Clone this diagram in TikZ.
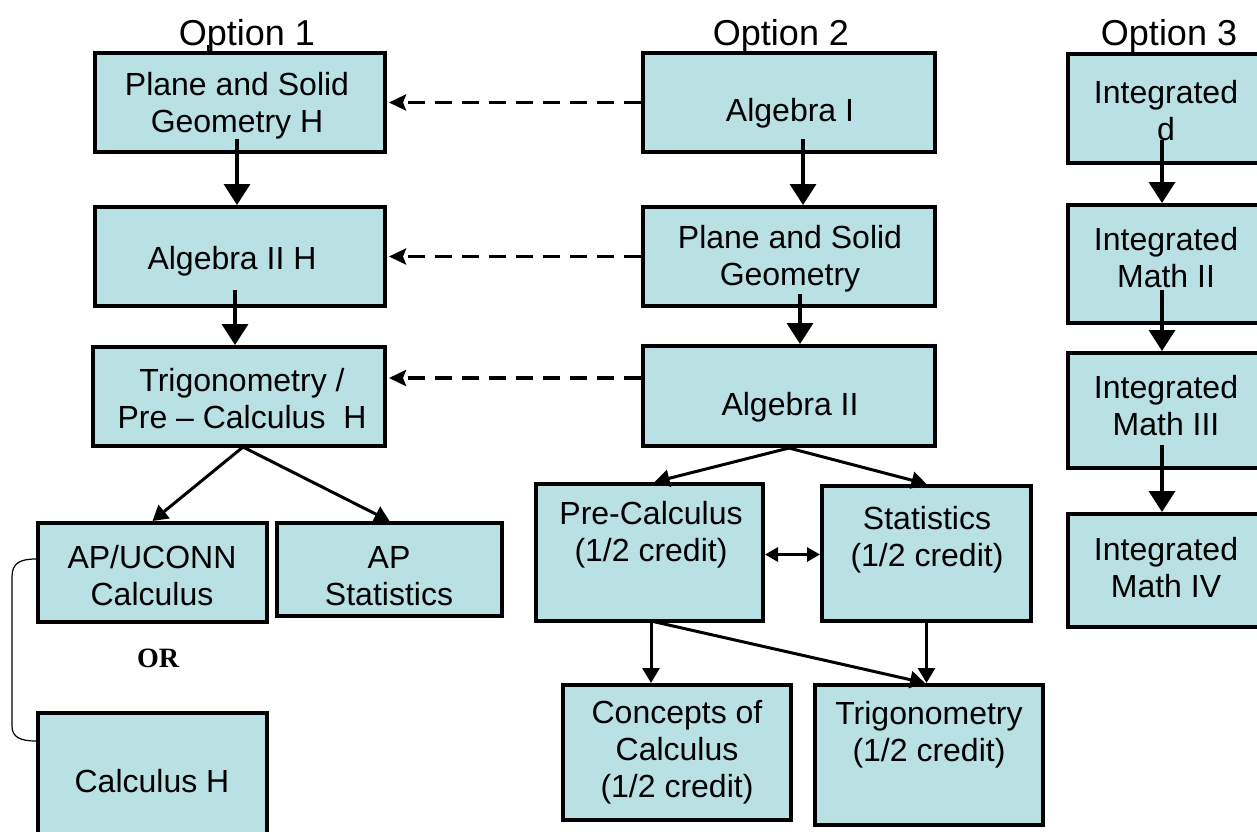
\documentclass[tikz,border=0pt]{standalone}
\usepackage{fontspec}
\setmainfont{Liberation Sans}
\newfontfamily\orfont{Liberation Serif}
\usetikzlibrary{arrows.meta,calc}

\definecolor{boxfill}{RGB}{185,224,227}

\tikzset{
  course/.style={draw=black, line width=4pt, fill=boxfill, inner sep=0pt},
  label/.style={font=\fontsize{32pt}{37pt}\selectfont, align=center, inner sep=0pt},
  title/.style={font=\fontsize{36pt}{40pt}\selectfont, inner sep=0pt},
  vflow/.style={line width=3.5pt, -{Triangle[length=21pt,width=26pt]}},
  dflow/.style={line width=3pt, -{Triangle[length=15pt,width=17pt]}},
  both/.style={line width=3pt, {Triangle[length=13pt,width=14pt]}-{Triangle[length=13pt,width=14pt]}},
  alt/.style={line width=3.5pt, dash pattern=on 17pt off 10pt,
    -{Stealth[length=17pt,width=16pt,inset=3pt]}, shorten >=2pt},
  brace/.style={line width=1.2pt}
}

\begin{document}
\begin{tikzpicture}[x=1pt,y=-1pt]
\useasboundingbox (0,0) rectangle (1257,831);
\clip (0,0) rectangle (1257,831);
\fill[white] (0,0) rectangle (1257,831);

% column titles
\node[title] (opt1) at (247,36) {Option 1};
\node[title] (opt2) at (781,36) {Option 2};
\node[title] (opt3) at (1169,36) {Option 3};

% option 1 boxes
\node[course, minimum width=290pt, minimum height=99pt] (p1) at (240,102.5) {};
\node[course, minimum width=290pt, minimum height=99pt] (a2h) at (240,256.5) {};
\node[course, minimum width=292pt, minimum height=99pt] (th) at (239,396.5) {};
\node[course, minimum width=229pt, minimum height=99pt] (apu) at (152.5,572.5) {};
\node[course, minimum width=225pt, minimum height=93pt] (aps) at (389.5,569.5) {};
\node[course, minimum width=229pt, minimum height=137pt] (ch) at (152.5,781.5) {};

% option 2 boxes
\node[course, minimum width=292pt, minimum height=99pt] (a1) at (789,102.5) {};
\node[course, minimum width=292pt, minimum height=99pt] (psg) at (789,256.5) {};
\node[course, minimum width=292pt, minimum height=100pt] (a2) at (789,396) {};
\node[course, minimum width=227pt, minimum height=137pt] (pc) at (649.5,552.5) {};
\node[course, minimum width=209pt, minimum height=135pt] (st) at (926.5,553.5) {};
\node[course, minimum width=228pt, minimum height=135pt] (cc) at (677,752.5) {};
\node[course, minimum width=228pt, minimum height=140pt] (tr) at (929,755) {};

% option 3 boxes
\node[course, minimum width=202pt, minimum height=109pt] (i1) at (1169,108.5) {};
\node[course, minimum width=202pt, minimum height=118pt] (i2) at (1169,264) {};
\node[course, minimum width=202pt, minimum height=115pt] (i3) at (1169,410.5) {};
\node[course, minimum width=202pt, minimum height=113pt] (i4) at (1169,570.5) {};

% box texts
\node[label] (t-p1) at (237,106) {Plane and Solid\\Geometry H};
\node[label] (t-a2h) at (232,261) {Algebra II H};
\node[label] (t-th) at (242,399) {Trigonometry /\\Pre – Calculus\ \ H};
\node[label] (t-apu) at (152,576) {AP/UCONN\\Calculus};
\node[label] (t-aps) at (389,576) {AP\\Statistics};
\node[inner sep=0pt, font=\orfont\bfseries\fontsize{28pt}{30pt}\selectfont] (or) at (158,658) {OR};
\node[label] (t-ch) at (152,781) {Calculus H};
\node[label] (t-a1) at (790,113) {Algebra I};
\node[label] (t-psg) at (790,259) {Plane and Solid\\Geometry};
\node[label] (t-a2) at (790,407) {Algebra II};
\node[label] (t-pc) at (651,535) {Pre-Calculus\\(1/2 credit)};
\node[label] (t-st) at (927,540) {Statistics\\(1/2 credit)};
\node[label] (t-cc) at (677,752) {Concepts of\\Calculus\\(1/2 credit)};
\node[label] (t-tr) at (929,735) {Trigonometry\\(1/2 credit)};
\node[label] (t-i1) at (1166,111) {Integrated\\d};
\node[label] (t-i2) at (1166,258) {Integrated\\Math II};
\node[label] (t-i3) at (1166,406) {Integrated\\Math III};
\node[label] (t-i4) at (1166,568) {Integrated\\Math IV};

% arrow start points inside the boxes
\coordinate (s1) at (237,139);
\coordinate (s2) at (235,290);
\coordinate (s3) at (803,139);
\coordinate (s4) at (800,294);
\coordinate (s5) at (1162,140);
\coordinate (s6) at (1162,290);
\coordinate (s7) at (1162,445);
\coordinate (b1) at (243,447);
\coordinate (b3) at (651,621);
\coordinate (tick) at (208,45);

% short rule under the first title
\draw[line width=1.5pt] (tick) -- (tick |- p1.north);

% vertical sequences
\draw[vflow] (s1) -- (s1 |- a2h.north);
\draw[vflow] (s2) -- (s2 |- th.north);
\draw[vflow] (s3) -- (s3 |- psg.north);
\draw[vflow] (s4) -- (s4 |- a2.north);
\draw[vflow] (s5) -- (s5 |- i2.north);
\draw[vflow] (s6) -- (s6 |- i3.north);
\draw[vflow] (s7) -- (s7 |- i4.north);

% honors alternatives
\draw[alt] (a1.west) -- (p1.east);
\draw[alt] (psg.west) -- (psg.west -| a2h.east);
\draw[alt] ([yshift=18pt]a2.west) -- ([yshift=18pt]a2.west -| th.east);

% branches
\draw[dflow] (b1) -- (apu.north);
\draw[dflow] (b1) -- (aps.north);
\draw[dflow] (a2.south) -- ($(pc.north)+(5,0)$);
\draw[dflow] (a2.south) -- (st.north);
\draw[both] ([yshift=-2pt]pc.east) -- ([yshift=-2pt]pc.east -| st.west);
\draw[dflow] (b3) -- (b3 |- cc.north);
\draw[dflow] (b3) -- ($(tr.north)+(-4,0)$);
\draw[dflow] (st.south) -- (st.south |- tr.north);

% either/or bracket
\draw[brace] ([yshift=13.5pt]apu.west) .. controls (20,559) and (12,563) .. (12,577)
  -- (12,726) .. controls (12,737) and (20,741) .. ([yshift=40.5pt]ch.west);
\end{tikzpicture}
\end{document}
